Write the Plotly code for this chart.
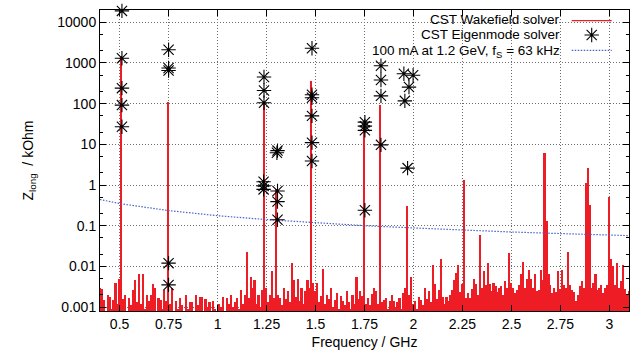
import plotly.graph_objects as go

# ---------------- data ----------------
# CST Wakefield solver spectrum, sampled every 0.01 GHz from 0.40 GHz
wake_f0 = 0.40
wake_df = 0.01
wake_z = [
    # 0.40 - 0.49
    0.003, 0.0028, 0.0015, 0.0007, 0.002, 0.0018, 0.0009, 0.0015, 0.004, 0.0012,
    # 0.50 - 0.59
    0.005, 1500, 0.0016, 0.002, 0.0007, 0.0017, 0.0011, 0.0027, 0.0045, 0.0013,
    # 0.60 - 0.69
    0.0065, 0.0012, 0.0065, 0.0009, 0.002, 0.0014, 0.002, 0.0037, 0.003, 0.0008,
    # 0.70 - 0.79
    0.0017, 0.0015, 0.0009, 0.0027, 0.0014, 110, 0.0012, 0.003, 0.0007, 0.0014,
    # 0.80 - 0.89
    0.0009, 0.0017, 0.0011, 0.0007, 0.002, 0.0009, 0.0013, 0.0013, 0.0007, 0.002,
    # 0.90 - 0.99
    0.0011, 0.0018, 0.0018, 0.0008, 0.0016, 0.001, 0.0013, 0.0007, 0.0014, 0.0009,
    # 1.00 - 1.09
    0.0007, 0.0012, 0.001, 0.0018, 0.0008, 0.0017, 0.0012, 0.002, 0.001, 0.0013,
    # 1.10 - 1.19
    0.0017, 0.0009, 0.0027, 0.0012, 0.002, 0.023, 0.0017, 0.0055, 0.003, 0.0045,
    # 1.20 - 1.29
    0.0012, 0.002, 0.001, 0.0027, 100, 0.003, 0.0013, 0.002, 0.0075, 0.0017,
    # 1.30 - 1.39
    0.8, 0.002, 0.0017, 0.0011, 0.003, 0.0016, 0.0025, 0.0013, 0.012, 0.0045,
    # 1.40 - 1.49
    0.0018, 0.005, 0.0014, 0.003, 0.0012, 0.0025, 0.0045, 0.003, 350, 0.004,
    # 1.50 - 1.59
    0.0025, 0.004, 0.0013, 0.0019, 0.0085, 0.0012, 0.002, 0.0016, 0.003, 0.001,
    # 1.60 - 1.69
    0.0015, 0.0022, 0.0009, 0.0019, 0.0014, 0.0011, 0.0025, 0.0013, 0.0009, 0.002,
    # 1.70 - 1.79
    0.0012, 0.0055, 0.0016, 0.0025, 0.0019, 30, 0.0012, 0.0017, 0.0011, 0.0021,
    # 1.80 - 1.89
    0.0029, 0.0025, 0.0012, 90, 0.0013, 0.0015, 0.0017, 0.0009, 0.0014, 0.002,
    # 1.90 - 1.99
    0.0014, 0.001, 0.0013, 0.0017, 0.0009, 0.0022, 0.003, 0.3, 0.002, 0.0055,
    # 2.00 - 2.09
    0.0012, 0.0014, 0.0009, 0.0018, 0.0015, 0.0011, 0.003, 0.0016, 0.0025, 0.0013,
    # 2.10 - 2.19
    0.011, 0.0037, 0.0016, 0.0026, 0.015, 0.0018, 0.0012, 0.0018, 0.0014, 0.002,
    # 2.20 - 2.29
    0.0026, 0.0045, 0.007, 0.011, 0.0024, 0.0037, 1.3, 0.0017, 0.0022, 0.0017,
    # 2.30 - 2.39
    0.0028, 0.005, 0.0037, 0.002, 0.06, 0.003, 0.0075, 0.0035, 0.012, 0.0037,
    # 2.40 - 2.49
    0.0025, 0.004, 0.0033, 0.0024, 0.003, 0.0033, 0.002, 0.0044, 0.003, 0.021,
    # 2.50 - 2.59
    0.0038, 0.0029, 0.0022, 0.0027, 0.0035, 0.0065, 0.013, 0.003, 0.005, 0.008,
    # 2.60 - 2.69
    0.005, 0.003, 0.0065, 0.0025, 0.0027, 0.008, 0.0045, 6.0, 0.13, 0.0065,
    # 2.70 - 2.79
    0.0035, 0.0022, 0.003, 0.0024, 0.0075, 0.0028, 0.008, 0.0035, 0.003, 0.022,
    # 2.80 - 2.89
    0.0035, 0.0026, 0.0024, 0.0014, 0.002, 0.0033, 0.0044, 0.003, 1.1, 2.6,
    # 2.90 - 2.99
    0.33, 0.0029, 0.004, 0.0065, 0.0027, 0.003, 0.0035, 0.0022, 0.0029, 0.0035,
    # 3.00 - 3.10
    0.5, 0.015, 0.01, 0.0035, 0.012, 0.003, 0.0044, 0.011, 0.0028, 0.0021, 0.0025,
]
wake_f = [round(wake_f0 + i * wake_df, 3) for i in range(len(wake_z))]

# CST Eigenmode solver modes
eig_f = [0.512, 0.512, 0.512, 0.512, 0.512,
         0.75, 0.75, 0.75, 0.75, 0.75,
         1.237, 1.237, 1.237, 1.235, 1.235, 1.235,
         1.306, 1.303, 1.306, 1.306, 1.306,
         1.482, 1.482, 1.482, 1.482, 1.482, 1.482,
         1.752, 1.752, 1.752, 1.752,
         1.834, 1.834, 1.834, 1.834,
         1.951, 1.998, 1.977, 1.956, 1.97]
eig_z = [19000, 1300, 240, 92, 27,
         2100, 750, 650, 0.012, 0.0035,
         450, 210, 105, 1.2, 0.95, 0.78,
         7.0, 6.2, 0.71, 0.39, 0.14,
         2300, 165, 140, 50, 11, 3.9,
         35, 28, 22, 0.24,
         850, 380, 155, 9.7,
         540, 500, 255, 117, 2.6]

# 100 mA at 1.2 GeV threshold curve
thr_f = [0.4, 0.5, 0.75, 1.0, 1.25, 1.5, 1.75, 2.0, 2.25, 2.5, 2.75, 3.0, 3.1]
thr_z = [0.44, 0.35, 0.235, 0.176, 0.141, 0.117, 0.1, 0.088, 0.078, 0.07, 0.064, 0.059, 0.057]

x_ticks = [0.5, 0.75, 1.0, 1.25, 1.5, 1.75, 2.0, 2.25, 2.5, 2.75, 3.0]
x_ticktext = ["0.5", "0.75", "1", "1.25", "1.5", "1.75", "2", "2.25", "2.5", "2.75", "3"]
y_ticks = [0.001, 0.01, 0.1, 1, 10, 100, 1000, 10000]
y_ticktext = ["0.001", "0.01", "0.1", "1", "10", "100", "1000", "10000"]

legend_labels = ["CST Wakefield solver", "CST Eigenmode solver",
                 "100 mA at 1.2 GeV, f<sub>S</sub> = 63 kHz"]

# ---------------- styling ----------------
FONT = "Liberation Sans, Arial, Helvetica, sans-serif"
RED = "#ee1c25"
BLUE = "#4a62c8"
DOTS = "1.5px,1.5px"

fig = go.Figure()

fig.add_trace(go.Bar(
    x=wake_f, y=wake_z, width=0.0085,
    marker=dict(color=RED, line=dict(width=0)),
    showlegend=False, hoverinfo="x+y",
))

fig.add_trace(go.Scatter(
    x=thr_f, y=thr_z, mode="lines",
    line=dict(color=BLUE, width=1.2, dash=DOTS),
    showlegend=False,
))

fig.add_trace(go.Scatter(
    x=eig_f, y=eig_z, mode="markers",
    marker=dict(symbol="asterisk-open", size=12, color="black",
                line=dict(color="black", width=1.1)),
    showlegend=False, cliponaxis=False,
))

# legend layout (paper fractions of the plot area)
leg_x0, leg_x1 = 0.8917, 0.9673
sample_rows = [0.9644, 0.9168, 0.866]     # sample line / star rows
text_rows = [0.9668, 0.9185, 0.8619]      # label rows
fig.add_trace(go.Scatter(
    x=[(leg_x0 + leg_x1) / 2], y=[sample_rows[1]], mode="markers",
    marker=dict(symbol="asterisk-open", size=12, color="black",
                line=dict(color="black", width=1.1)),
    xaxis="x2", yaxis="y2", showlegend=False, hoverinfo="skip",
))

shapes = [
    # opaque key area (hides grid, below traces)
    dict(type="rect", xref="paper", yref="paper", x0=0.322, x1=1.0, y0=0.838, y1=1.0,
         fillcolor="white", line=dict(width=0), layer="between"),
    dict(type="line", xref="paper", yref="paper", x0=leg_x0, x1=leg_x1,
         y0=sample_rows[0], y1=sample_rows[0], line=dict(color=RED, width=1.3)),
    dict(type="line", xref="paper", yref="paper", x0=leg_x0, x1=leg_x1,
         y0=sample_rows[2], y1=sample_rows[2], line=dict(color=BLUE, width=1.2, dash=DOTS)),
]
annotations = [
    dict(text=t, xref="paper", yref="paper", x=0.8733, y=yy, xanchor="right",
         yanchor="middle", showarrow=False,
         font=dict(family=FONT, size=13.5, color="black"))
    for t, yy in zip(legend_labels, text_rows)
]

axis_common = dict(
    showline=True, linecolor="black", linewidth=1, mirror="allticks",
    ticks="inside", ticklen=6, tickcolor="black",
    showgrid=True, gridcolor="#6e6e6e", griddash="1px,2px", gridwidth=1,
    zeroline=False, tickfont=dict(family=FONT, size=14, color="black"),
)

fig.update_layout(
    width=635, height=356,
    margin=dict(l=100, r=6, t=10, b=45),
    paper_bgcolor="white", plot_bgcolor="white",
    bargap=0, shapes=shapes, annotations=annotations,
    font=dict(family=FONT, size=14, color="black"),
    xaxis=dict(range=[0.4, 3.1], tickvals=x_ticks, ticktext=x_ticktext,
               title=dict(text="Frequency / GHz", standoff=6,
                          font=dict(family=FONT, size=14)),
               **axis_common),
    yaxis=dict(type="log", range=[-3.09691, 4.30103], tickvals=y_ticks, ticktext=y_ticktext,
               title=dict(text="Z<sub>long</sub>  / kOhm", standoff=20,
                          font=dict(family=FONT, size=14)),
               minor=dict(ticks="inside", ticklen=3, tickcolor="black", showgrid=False),
               **axis_common),
    xaxis2=dict(range=[0, 1], overlaying="x", visible=False),
    yaxis2=dict(range=[0, 1], overlaying="y", visible=False),
)

fig.write_html("out.html")
